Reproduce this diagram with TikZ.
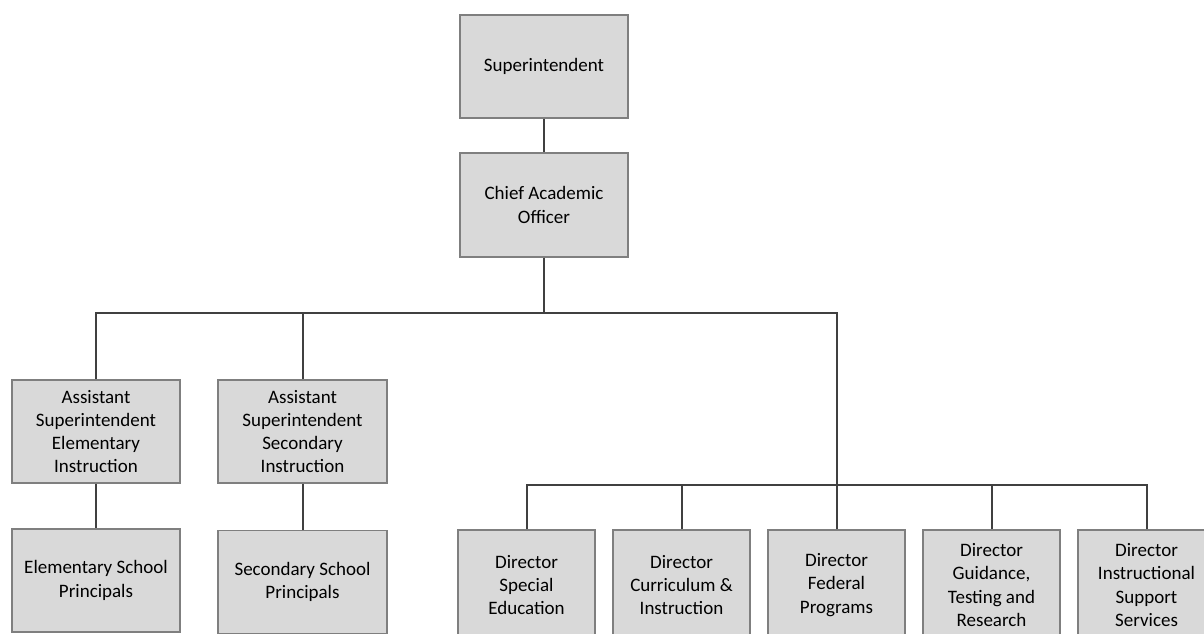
\documentclass[tikz,border=0pt]{standalone}
\usepackage{fontspec}
\setmainfont{Carlito}
\definecolor{boxfill}{HTML}{D9D9D9}
\definecolor{boxline}{HTML}{7F7F7F}
\definecolor{wire}{HTML}{404040}
\tikzset{
  unit/.style={draw=boxline, fill=boxfill, line width=1.1pt, inner sep=0pt,
    align=center, font=\fontsize{19}{23.3}\selectfont, text=black},
  wide/.style={unit, minimum width=168pt, minimum height=103pt},
  narrow/.style={unit, minimum width=137pt, minimum height=110pt},
  link/.style={draw=wire, line width=2pt}
}
\begin{document}
\begin{tikzpicture}[x=1pt,y=-1pt]
\useasboundingbox (0,0) rectangle (1204,633);
\clip (0,0) rectangle (1204,633);
\fill[white] (0,0) rectangle (1204,633);

% top of the hierarchy
\node[wide] (sup) at (544,66.5) {Superintendent};
\node[wide, minimum height=104pt] (cao) at (544,205) {Chief Academic\\Officer};

% assistant superintendents and their principals
\node[wide] (ase) at (96,431.5) {Assistant\\Superintendent\\Elementary\\Instruction};
\node[wide, minimum width=169pt] (ass) at (302.5,431.5) {Assistant\\Superintendent\\Secondary\\Instruction};
\node[wide] (esp) at (96,580.5) {Elementary School\\Principals};
\node[wide, minimum width=169pt] (ssp) at (302.5,582) {Secondary School\\Principals};

% directors
\node[narrow] (dse) at (526.5,585) {Director\\Special\\Education};
\node[narrow] (dci) at (681.5,585) {Director\\Curriculum \&\\Instruction};
\node[narrow] (dfp) at (836.5,585) {Director\\Federal\\Programs};
\node[narrow] (dgt) at (991.5,585) {Director\\Guidance,\\Testing and\\Research};
\node[narrow] (dis) at (1146.5,585) {Director\\Instructional\\Support\\Services};

% reporting lines
\coordinate (busA) at (544,313);
\coordinate (busB) at (836.5,485);
\draw[link] (sup.south) -- (cao.north);
\draw[link] (cao.south) -- (busA);
\draw[link] (ase.north) |- (busA);
\draw[link] (ass.north) |- (busA);
\draw[link] (dfp.north) |- (busA);
\draw[link] (ase.south) -- (esp.north);
\draw[link] (ass.south) -- (ssp.north);
\draw[link] (dse.north) |- (busB);
\draw[link] (dci.north) |- (busB);
\draw[link] (dgt.north) |- (busB);
\draw[link] (dis.north) |- (busB);
\end{tikzpicture}
\end{document}
